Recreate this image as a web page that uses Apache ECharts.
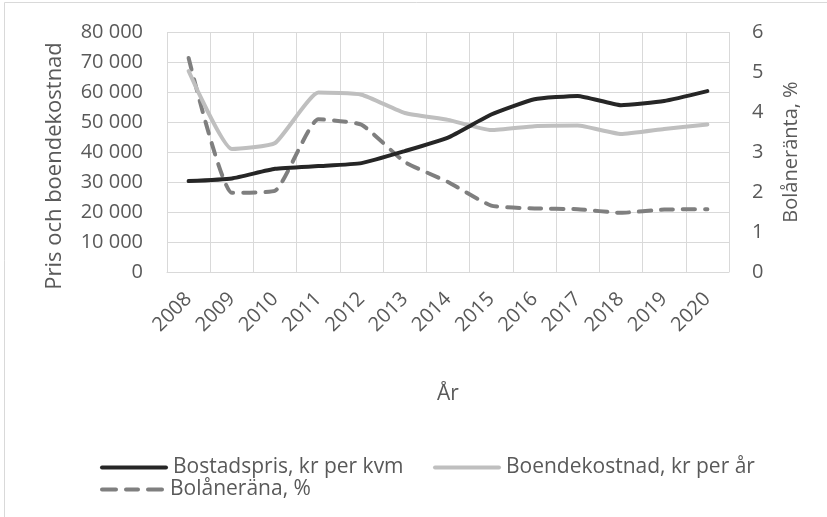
<!DOCTYPE html>
<html>
<head>
<meta charset="utf-8">
<script src="https://cdn.jsdelivr.net/npm/echarts@6/dist/echarts.min.js"></script>
<style>html,body{margin:0;padding:0;background:#fff}#c{width:827px;height:517px}</style>
</head>
<body>
<div id="c"></div>
<script>
var years = ['2008','2009','2010','2011','2012','2013','2014','2015','2016','2017','2018','2019','2020'];
var bostadspris = [30300, 31200, 34400, 35300, 36300, 40300, 44800, 52500, 57600, 58700, 55600, 57000, 60300];
var boendekostnad = [67000, 41000, 43000, 59800, 59100, 53000, 50700, 47300, 48600, 48800, 46000, 47700, 49200];
var bolanerana = [5.35, 1.98, 2.03, 3.82, 3.68, 2.75, 2.25, 1.66, 1.59, 1.57, 1.48, 1.56, 1.57];
var seriesNames = ['Bostadspris, kr per kvm', 'Boendekostnad, kr per år', 'Bolåneräna, %'];
var leftTicks = {min: 0, max: 80000, interval: 10000};
var rightTicks = {min: 0, max: 6, interval: 1};

var FONT = 'Open Sans';
var TXT = '#595959';
var GRID = '#d9d9d9';
var FS = 20;

function fmtThousands(v) {
  return String(v).replace(/\B(?=(\d{3})+(?!\d))/g, ' ');
}

var solidIcon = 'path://M2,0 H66 A2,2 0 0 1 66,4 H2 A2,2 0 0 1 2,0 Z';
var dashIcon = 'path://M2,0 H16 A2,2 0 0 1 16,4 H2 A2,2 0 0 1 2,0 Z M26,0 H38 A2,2 0 0 1 38,4 H26 A2,2 0 0 1 26,0 Z M48,0 H62 A2,2 0 0 1 62,4 H48 A2,2 0 0 1 48,0 Z';

var chart = echarts.init(document.getElementById('c'), null, {renderer: 'canvas'});
var legendText = {fontFamily: FONT, fontSize: 21, color: TXT};
chart.setOption({
  backgroundColor: '#fff',
  animation: false,
  textStyle: {fontFamily: FONT},
  graphic: [{
    type: 'rect', silent: true,
    shape: {x: 4.5, y: 2.5, width: 900, height: 600},
    style: {fill: 'none', stroke: GRID, lineWidth: 1}
  }, {
    type: 'text', silent: true,
    x: 55, y: 166, rotation: Math.PI / 2,
    style: {text: 'Pris och boendekostnad', fontFamily: FONT, fontSize: 22, fill: TXT, align: 'center', verticalAlign: 'middle'}
  }],
  grid: {left: 167, right: 98, top: 32, bottom: 245, containLabel: false},
  legend: [
    {data: [seriesNames[0]], icon: solidIcon, left: 95, top: 452, itemWidth: 68, itemHeight: 4, textStyle: legendText},
    {data: [seriesNames[1]], icon: solidIcon, left: 428, top: 452, itemWidth: 68, itemHeight: 4, textStyle: legendText},
    {data: [seriesNames[2]], icon: dashIcon, left: 95, top: 474, itemWidth: 66, itemHeight: 4, textStyle: legendText}
  ],
  xAxis: {
    type: 'category', data: years, boundaryGap: true,
    name: 'År', nameLocation: 'middle', nameGap: 112,
    nameTextStyle: {fontFamily: FONT, fontSize: 21, color: TXT},
    axisLine: {show: true, lineStyle: {color: GRID, width: 1}},
    axisTick: {show: false},
    axisLabel: {rotate: 45, margin: 24, fontFamily: FONT, fontSize: FS, color: TXT, interval: 0},
    splitLine: {show: true, interval: 0, lineStyle: {color: GRID, width: 1}}
  },
  yAxis: [{
    type: 'value', min: leftTicks.min, max: leftTicks.max, interval: leftTicks.interval,
    axisLine: {show: false}, axisTick: {show: false},
    axisLabel: {margin: 24, fontFamily: FONT, fontSize: FS, color: TXT, formatter: fmtThousands},
    splitLine: {show: true, lineStyle: {color: GRID, width: 1}}
  }, {
    type: 'value', position: 'right', min: rightTicks.min, max: rightTicks.max, interval: rightTicks.interval,
    name: 'Bolåneränta, %', nameLocation: 'middle', nameGap: 52, nameRotate: 90,
    nameTextStyle: {fontFamily: FONT, fontSize: 20, color: TXT},
    axisLine: {show: false}, axisTick: {show: false},
    axisLabel: {margin: 23, fontFamily: FONT, fontSize: FS, color: TXT},
    splitLine: {show: false}
  }],
  series: [{
    name: seriesNames[0], type: 'line', data: bostadspris, yAxisIndex: 0,
    smooth: 0.15, symbol: 'none', showSymbol: false,
    lineStyle: {color: '#262626', width: 4, cap: 'round', join: 'round'},
    itemStyle: {color: '#262626'}, z: 4
  }, {
    name: seriesNames[1], type: 'line', data: boendekostnad, yAxisIndex: 0,
    smooth: 0.15, symbol: 'none', showSymbol: false,
    lineStyle: {color: '#bfbfbf', width: 4, cap: 'round', join: 'round'},
    itemStyle: {color: '#bfbfbf'}, z: 3
  }, {
    name: seriesNames[2], type: 'line', data: bolanerana, yAxisIndex: 1,
    smooth: 0.15, symbol: 'none', showSymbol: false,
    lineStyle: {color: '#7f7f7f', width: 4, type: [12, 10], cap: 'round', join: 'round'},
    itemStyle: {color: '#7f7f7f'}, z: 2
  }]
});
</script>
</body>
</html>
